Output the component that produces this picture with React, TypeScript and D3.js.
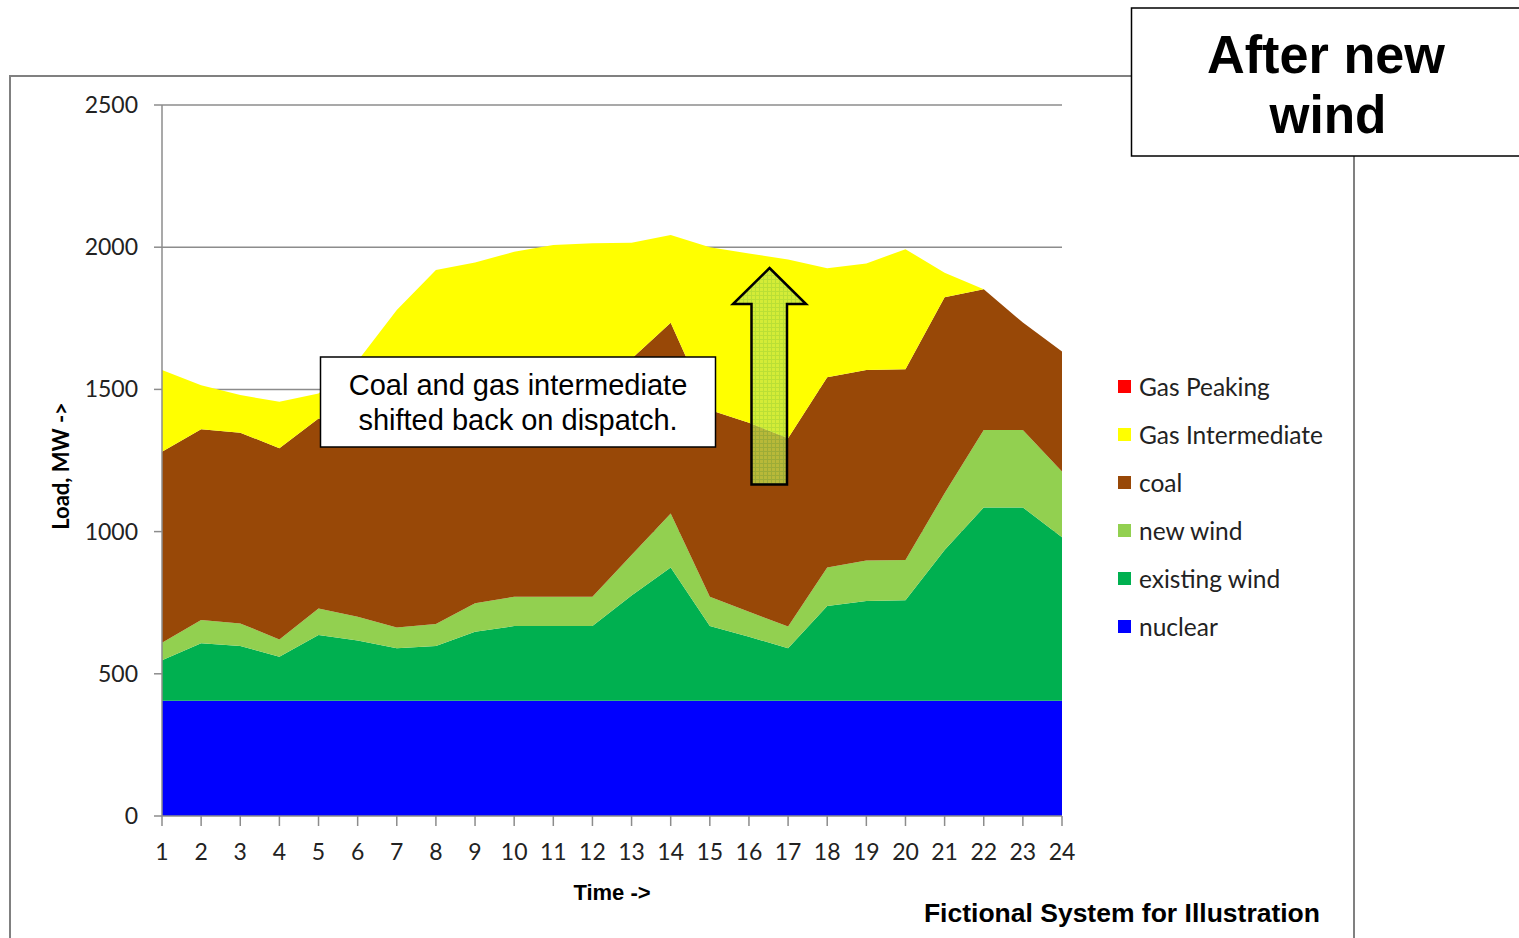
import React from "react";
import * as d3 from "d3";

const hours = [1, 2, 3, 4, 5, 6, 7, 8, 9, 10, 11, 12, 13, 14, 15, 16, 17, 18, 19, 20, 21, 22, 23, 24];
const yTicks = [0, 500, 1000, 1500, 2000, 2500];

const nuclear = [405, 405, 405, 405, 405, 405, 405, 405, 405, 405, 405, 405, 405, 405, 405, 405, 405, 405, 405, 405, 405, 405, 405, 405];
const existingWind = [143, 202, 193, 155, 231, 212, 185, 193, 243, 263, 263, 263, 370, 469, 263, 225, 185, 333, 351, 354, 530, 680, 680, 575];
const newWind = [61, 82, 79, 61, 94, 84, 73, 77, 100, 103, 103, 103, 143, 190, 103, 88, 76, 136, 142, 141, 200, 272, 272, 231];
const coal = [672, 671, 671, 672, 668, 670, 670, 670, 670, 670, 670, 670, 690, 670, 657, 665, 662, 669, 670, 671, 689, 495, 378, 422];
const gasIntermediate = [287, 155, 132, 164, 88, 229, 446, 575, 528, 543, 567, 573, 408, 309, 572, 595, 629, 383, 375, 422, 86, 0, 0, 0];
const gasPeaking = [0, 0, 0, 0, 0, 0, 0, 0, 0, 0, 0, 0, 0, 0, 0, 0, 0, 0, 0, 0, 0, 0, 0, 0];

const seriesKeys = ["nuclear", "existing wind", "new wind", "coal", "Gas Intermediate", "Gas Peaking"];
const seriesColors = ["#0000FF", "#00B050", "#92D050", "#984807", "#FFFF00", "#FF0000"];
const legendOrder = ["Gas Peaking", "Gas Intermediate", "coal", "new wind", "existing wind", "nuclear"];

const table = hours.map((h, i) => ({
  hour: h,
  nuclear: nuclear[i],
  "existing wind": existingWind[i],
  "new wind": newWind[i],
  coal: coal[i],
  "Gas Intermediate": gasIntermediate[i],
  "Gas Peaking": gasPeaking[i],
}));

export default function App() {
  const W = 1519;
  const H = 938;
  const x = d3.scalePoint<number>().domain(hours).range([162, 1062]);
  const y = d3.scaleLinear().domain([0, 2500]).range([816, 105]);
  const stacked = d3.stack<any>().keys(seriesKeys)(table);
  const area = d3
    .area<any>()
    .x((d) => x(d.data.hour) as number)
    .y0((d) => y(d[0]))
    .y1((d) => y(d[1]));
  const color = d3.scaleOrdinal<string, string>().domain(seriesKeys).range(seriesColors);

  const tickFont = "Lato, 'Open Sans', sans-serif";
  const arial = "'Liberation Sans', Arial, sans-serif";

  return (
    <svg width={W} height={H} style={{ position: "fixed", left: 0, top: 0, background: "#fff" }}>
      <defs>
        <pattern id="arrowPat" width="4" height="4" patternUnits="userSpaceOnUse">
          <rect width="4" height="4" fill="#9fd24a" />
          <rect width="3" height="3" fill="#c4e44c" />
        </pattern>
      </defs>
      {/* outer frame */}
      <rect x={10} y={76} width={1344} height={900} fill="#fff" stroke="#808080" strokeWidth={2} />

      {/* grid lines */}
      {yTicks.filter((t) => t > 0).map((t) => (
        <line key={"g" + t} x1={162} x2={1062} y1={y(t)} y2={y(t)} stroke="#8c8c8c" strokeWidth={1.5} />
      ))}

      {/* areas */}
      {stacked.map((s) => (
        <path key={s.key} d={area(s) as string} fill={color(s.key)} />
      ))}

      {/* y axis */}
      <line x1={162} x2={162} y1={y(2500)} y2={y(0)} stroke="#8c8c8c" strokeWidth={1.5} />
      {yTicks.map((t) => (
        <g key={"yt" + t}>
          <line x1={154} x2={162} y1={y(t)} y2={y(t)} stroke="#8c8c8c" strokeWidth={1.5} />
          <text x={138} y={y(t) + 8} textAnchor="end" fontFamily={tickFont} fontSize={23} fill="#222">
            {t}
          </text>
        </g>
      ))}
      {/* x axis */}
      <line x1={162} x2={1062} y1={y(0)} y2={y(0)} stroke="#8c8c8c" strokeWidth={1.5} />
      {hours.map((h) => (
        <g key={"xt" + h}>
          <line x1={x(h)} x2={x(h)} y1={816} y2={826} stroke="#8c8c8c" strokeWidth={1.5} />
          <text x={x(h)} y={860} textAnchor="middle" fontFamily={tickFont} fontSize={23} fill="#222">
            {h}
          </text>
        </g>
      ))}

      {/* axis titles */}
      <text x={612} y={900} textAnchor="middle" fontFamily={arial} fontWeight="bold" fontSize={22} fill="#000">
        Time -&gt;
      </text>
      <text
        transform="translate(69,466) rotate(-90)"
        textAnchor="middle"
        fontFamily={tickFont}
        fontWeight="bold"
        fontSize={22}
        fill="#000"
      >
        Load, MW -&gt;
      </text>

      {/* legend */}
      {legendOrder.map((k, i) => (
        <g key={"lg" + k} transform={`translate(1118, ${387 + i * 48})`}>
          <rect x={0} y={-7} width={13} height={13} fill={color(k)} />
          <text x={21} y={8.5} fontFamily={tickFont} fontSize={24.5} fill="#222">
            {k}
          </text>
        </g>
      ))}

      {/* annotation box */}
      <rect x={320.5} y={357} width={395} height={90} fill="#fff" stroke="#000" strokeWidth={1.5} />
      <text x={518} y={395} textAnchor="middle" fontFamily={arial} fontSize={29} fill="#000">
        Coal and gas intermediate
      </text>
      <text x={518} y={430} textAnchor="middle" fontFamily={arial} fontSize={29} fill="#000">
        shifted back on dispatch.
      </text>

      {/* arrow */}
      <polygon
        points="769.5,268 806,304 787,304 787,484.5 751.5,484.5 751.5,304 733,304"
        fill="url(#arrowPat)"
        fillOpacity={0.72}
        stroke="#000"
        strokeWidth={2.5}
        strokeLinejoin="miter"
      />

      {/* title box */}
      <rect x={1131.5} y={8} width={420} height={148} fill="#fff" stroke="#000" strokeWidth={1.5} />
      <text
        x={1326}
        y={73}
        textAnchor="middle"
        fontFamily={arial}
        fontWeight="bold"
        fontSize={54}
        fill="#000"
        textLength={238}
        lengthAdjust="spacingAndGlyphs"
      >
        After new
      </text>
      <text
        x={1328}
        y={133}
        textAnchor="middle"
        fontFamily={arial}
        fontWeight="bold"
        fontSize={54}
        fill="#000"
        textLength={117}
        lengthAdjust="spacingAndGlyphs"
      >
        wind
      </text>

      {/* footer */}
      <text x={1320} y={922} textAnchor="end" fontFamily={arial} fontWeight="bold" fontSize={26.5} fill="#000">
        Fictional System for Illustration
      </text>
    </svg>
  );
}
